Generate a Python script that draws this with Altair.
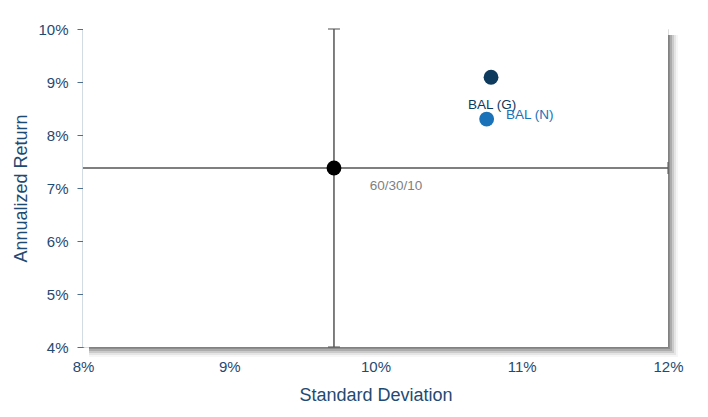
import altair as alt
import pandas as pd

names = ["60/30/10", "BAL (G)", "BAL (N)"]
std_dev = [9.716, 10.79, 10.76]
ann_ret = [7.377, 9.09, 8.30]
colors = ["#000000", "#0E3A5D", "#1A72B8"]
label_colors = ["#7f7f7f", "#0E3A5D", "#1A72B8"]
label_dx = [62, 1, 43]
label_dy = [18, 28, -4]

x_ticks = [8, 9, 10, 11, 12]
y_ticks = [4, 5, 6, 7, 8, 9, 10]
x_range = [8, 12]
y_range = [4, 10]

df = pd.DataFrame({"name": names, "sd": std_dev, "ret": ann_ret,
                   "color": colors, "lcolor": label_colors,
                   "dx": label_dx, "dy": label_dy})

W, H = 585, 318
xs = alt.Scale(domain=x_range, nice=False, zero=False)
ys = alt.Scale(domain=y_range, nice=False, zero=False)
font = "Liberation Sans"
axis_col = "#1F4A72"

base = alt.Chart(df)

# shadow layers
shadow = []
for i, op in enumerate([0.35, 0.25, 0.18, 0.1, 0.05]):
    off = 2 + i * 2
    shadow.append(alt.Chart(df.head(1)).mark_rect(color="#555555", opacity=op).encode(
        x=alt.value(W), x2=alt.value(W + off), y=alt.value(6), y2=alt.value(H + off)))
    shadow.append(alt.Chart(df.head(1)).mark_rect(color="#555555", opacity=op).encode(
        x=alt.value(6), x2=alt.value(W), y=alt.value(H), y2=alt.value(H + off)))

bg = alt.Chart(df.head(1)).mark_rect(color="white").encode(
    x=alt.value(0), x2=alt.value(W), y=alt.value(0), y2=alt.value(H))

v_df = pd.DataFrame({"sd": [std_dev[0]], "lo": [y_range[0]], "hi": [y_range[1]]})
h_df = pd.DataFrame({"ret": [ann_ret[0]], "lo": [x_range[0]], "hi": [x_range[1]]})
vline = alt.Chart(v_df).mark_rule(color="#555555", strokeWidth=1.5).encode(
    x=alt.X("sd:Q", scale=xs), y=alt.Y("lo:Q", scale=ys), y2="hi:Q")
hline = alt.Chart(h_df).mark_rule(color="#555555", strokeWidth=1.5).encode(
    y=alt.Y("ret:Q", scale=ys), x=alt.X("lo:Q", scale=xs), x2="hi:Q")

caps_df = pd.DataFrame({"x": [std_dev[0], std_dev[0]], "y": y_range})
vcaps = alt.Chart(caps_df).mark_tick(color="#555555", orient="horizontal", size=12, thickness=1.5).encode(
    x=alt.X("x:Q", scale=xs), y=alt.Y("y:Q", scale=ys))
hcap_df = pd.DataFrame({"x": [x_range[1]], "y": [ann_ret[0]]})
hcap = alt.Chart(hcap_df).mark_tick(color="#555555", orient="vertical", size=12, thickness=1.5).encode(
    x=alt.X("x:Q", scale=xs), y=alt.Y("y:Q", scale=ys))

points = base.mark_point(filled=True, opacity=1, size=220).encode(
    x=alt.X("sd:Q", scale=xs, title="Standard Deviation",
            axis=alt.Axis(values=x_ticks, labelExpr="datum.value + '%'", grid=False,
                          ticks=False, domain=False, labelPadding=12, labelFlush=False,
                          labelFontSize=15, labelColor=axis_col, labelFont=font,
                          titleFontSize=18, titleColor=axis_col, titleFont=font,
                          titleFontWeight="normal", titlePadding=12)),
    y=alt.Y("ret:Q", scale=ys, title="Annualized Return",
            axis=alt.Axis(values=y_ticks, labelExpr="datum.value + '%'", grid=False,
                          tickSize=6, tickColor="#4F6F8F", domainColor="#4F6F8F",
                          domainWidth=1.5, labelPadding=9, labelFlush=False,
                          labelFontSize=15, labelColor=axis_col, labelFont=font,
                          titleFontSize=18, titleColor=axis_col, titleFont=font,
                          titleFontWeight="normal", titlePadding=7)),
    color=alt.Color("color:N", scale=None),
)

labels = []
for i in range(len(names)):
    sub = df.iloc[[i]]
    labels.append(alt.Chart(sub).mark_text(font=font, fontSize=13.5, color=label_colors[i],
                                           dx=label_dx[i], dy=label_dy[i]).encode(
        x=alt.X("sd:Q", scale=xs), y=alt.Y("ret:Q", scale=ys), text="name:N"))

chart = alt.layer(*shadow, bg, vline, hline, vcaps, hcap, points, *labels).properties(
    width=W, height=H, autosize=alt.AutoSizeParams(type="none"),
    padding={"left": 75, "top": 21, "right": 30, "bottom": 60}
).configure_view(stroke=None).configure(background="white")

chart.save("out.html", embed_options={"renderer": "svg", "actions": False})
